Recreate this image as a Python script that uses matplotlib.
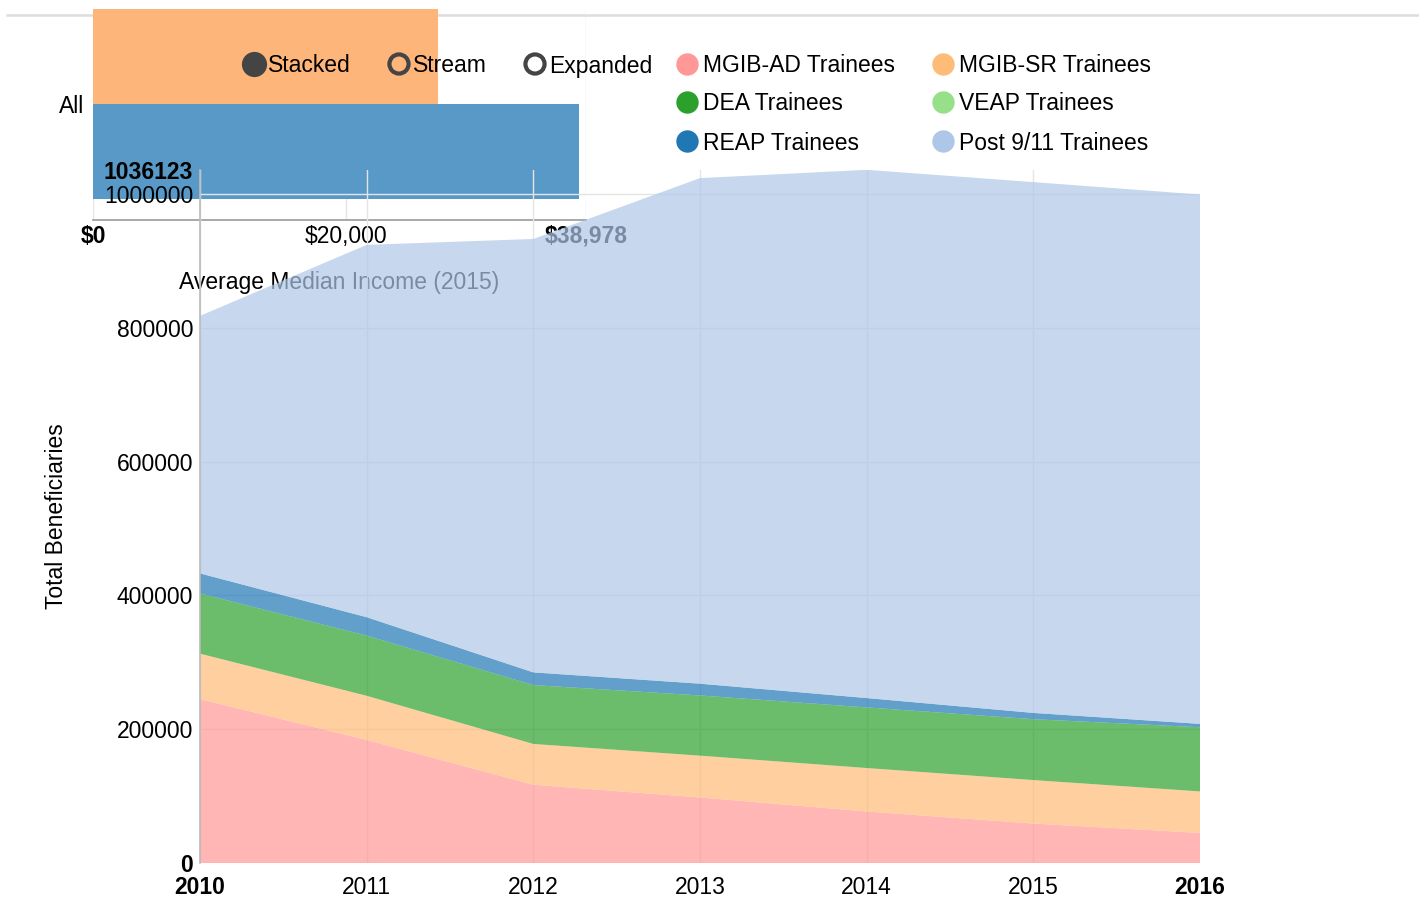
import matplotlib
matplotlib.use("Agg")
import matplotlib.pyplot as plt
from matplotlib.lines import Line2D
import numpy as np

plt.rcParams['font.family'] = ['Liberation Sans', 'DejaVu Sans']

# ---------------- data ----------------
years = [2010, 2011, 2012, 2013, 2014, 2015, 2016]
series_names = ["MGIB-AD Trainees", "MGIB-SR Trainees", "DEA Trainees",
                "VEAP Trainees", "REAP Trainees", "Post 9/11 Trainees"]
mgib_ad = [245000, 184000, 117000, 98000, 77000, 59000, 45000]
mgib_sr = [68000, 66000, 61000, 62500, 65000, 65000, 62000]
dea = [90000, 90000, 88000, 90000, 90600, 91000, 96000]
veap = [0, 0, 0, 0, 0, 0, 0]
reap = [30000, 27500, 19000, 17600, 14000, 9400, 5000]
post911 = [385000, 556700, 648000, 755900, 789800, 793600, 791500]
series_colors = ["#ff9896", "#ffbb78", "#2ca02c", "#98df8a", "#1f77b4", "#aec7e8"]

controls = ["Stacked", "Stream", "Expanded"]

bar_category = "All"
bar_values = [27300, 38400]          # orange (upper), blue (lower)
bar_colors = ["#fdb57a", "#5899c7"]
bar_max = 38978

ytick_vals = [0, 200000, 400000, 600000, 800000, 1000000]
total_max = 1036123

# ---------------- figure ----------------
W, H = 1419, 900
fig = plt.figure(figsize=(W / 100, H / 100), dpi=100)

def rect(x0, y0, x1, y1):
    return [x0 / W, 1 - y1 / H, (x1 - x0) / W, (y1 - y0) / H]

# grey line at top
fig.add_artist(Line2D([7 / W, 1], [1 - 15 / H, 1 - 15 / H], transform=fig.transFigure,
                      color="#dddddd", lw=1.8, zorder=-5))

# ---------------- bar chart (behind) ----------------
axb = fig.add_axes(rect(93, 9, 586, 220))
axb.patch.set_visible(False)
axb.barh([0.25, -0.25], bar_values, height=0.5, color=bar_colors, zorder=2)
axb.set_xlim(0, bar_max)
axb.set_ylim(-0.61, 0.5)
axb.set_yticks([0])
axb.set_yticklabels([bar_category], fontsize=16.5)
axb.set_xticks([0, 20000, bar_max])
axb.set_xticklabels(["$0", "$20,000", "${:,}".format(bar_max)], fontsize=16.5)
for i, lab in enumerate(axb.get_xticklabels()):
    if i in (0, 2):
        lab.set_fontweight("bold")
axb.tick_params(axis="both", length=0)
axb.tick_params(axis="x", pad=3.5)
axb.tick_params(axis="y", pad=6.5)
axb.grid(axis="x", color="#e5e5e5", lw=1)
axb.set_axisbelow(True)
for s in ["top", "right", "left"]:
    axb.spines[s].set_visible(False)
axb.spines["bottom"].set_color("#999999")
axb.spines["bottom"].set_linewidth(1.2)
axb.set_xlabel("Average Median Income (2015)", fontsize=16.5, labelpad=17)

# ---------------- stacked area ----------------
axa = fig.add_axes(rect(200, 170, 1200, 863))
axa.patch.set_visible(False)
data = [mgib_ad, mgib_sr, dea, veap, reap, post911]
axa.stackplot(years, *data, colors=series_colors, alpha=0.7, lw=0, zorder=2)
axa.set_xlim(years[0], years[-1])
axa.set_ylim(0, total_max)
yt = ytick_vals + [total_max]
axa.set_yticks(yt)
axa.set_yticklabels([str(v) for v in yt], fontsize=16.5)
for lab, v in zip(axa.get_yticklabels(), yt):
    if v in (0, total_max):
        lab.set_fontweight("bold")
axa.set_xticks(years)
axa.set_xticklabels([str(y) for y in years], fontsize=16.5)
for lab, y in zip(axa.get_xticklabels(), years):
    if y in (years[0], years[-1]):
        lab.set_fontweight("bold")
axa.tick_params(axis="both", length=0)
axa.tick_params(axis="x", pad=9)
axa.tick_params(axis="y", pad=5)
axa.grid(True, color="#e5e5e5", lw=1)
axa.get_ygridlines()[-1].set_visible(False)
axa.get_xgridlines()[-1].set_visible(False)
axa.set_axisbelow(True)
for s in ["top", "right", "bottom"]:
    axa.spines[s].set_visible(False)
axa.spines["left"].set_color("#bbbbbb")
axa.spines["left"].set_linewidth(1.2)
fig.text(57 / W, 1 - 516 / H, "Total Beneficiaries", rotation=90, fontsize=16.5,
         ha="center", va="center")

# ---------------- legend overlay ----------------
axl = fig.add_axes([0, 0, 1, 1])
axl.set_xlim(0, W)
axl.set_ylim(H, 0)
axl.axis("off")
axl.patch.set_visible(False)

ctrl_x = [254, 399, 535]
for i, (name, cx) in enumerate(zip(controls, ctrl_x)):
    if i == 0:
        axl.scatter([cx], [64], s=260, color="#444444", edgecolor="#444444", lw=2.0)
    else:
        axl.scatter([cx], [64], s=190, facecolor="none", edgecolor="#444444", lw=3.0)
    axl.text(cx + 14, 66, name, fontsize=16.5, va="center", ha="left")

leg_x = [687, 943]
leg_y = [64, 102, 141]
for i, (name, col) in enumerate(zip(series_names, series_colors)):
    cx = leg_x[i % 2]
    cy = leg_y[i // 2]
    axl.scatter([cx], [cy], s=260, color=col, lw=0)
    axl.text(cx + 16, cy + 2, name, fontsize=16.5, va="center", ha="left")

fig.savefig("out.png", dpi=100)
